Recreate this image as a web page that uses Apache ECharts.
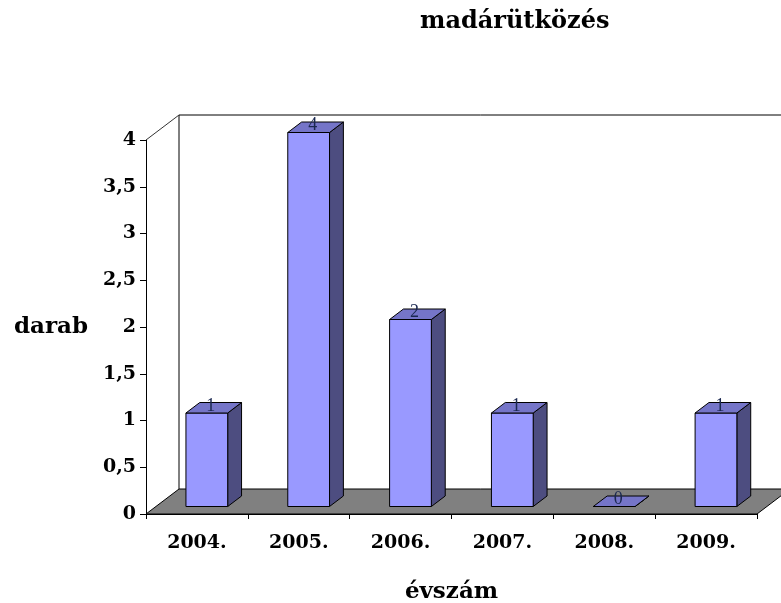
<!DOCTYPE html>
<html>
<head>
<meta charset="utf-8">
<script src="https://cdn.jsdelivr.net/npm/echarts@6/dist/echarts.min.js"></script>
<style>html,body{margin:0;padding:0;background:#fff}#c{width:781px;height:603px}</style>
</head>
<body>
<div id="c"></div>
<script>
const categories = ['2004.', '2005.', '2006.', '2007.', '2008.', '2009.'];
const values = [1, 4, 2, 1, 0, 1];
const yMin = 0, yMax = 4, yStep = 0.5;
const titleText = 'madárütközés';
const xName = 'évszám';
const yName = 'darab';

const FONT = '"DejaVu Serif", serif';
const DX = 33, DY = -25;        // depth offset of the 3D box
const D1 = 0.3, D2 = 0.72;      // bar front/back depth fractions
const BAR = 0.41;               // bar width fraction of band

const chart = echarts.init(document.getElementById('c'), null, {renderer: 'canvas'});

function renderBox(params, api) {
  const cs = params.coordSys;
  const x0 = cs.x, x1 = cs.x + cs.width, yT = cs.y, yB = cs.y + cs.height;
  const st = {stroke: '#000', lineWidth: 1};
  return {
    type: 'group',
    children: [
      {type: 'polygon', shape: {points: [[x0, yB], [x1, yB], [x1 + DX, yB + DY], [x0 + DX, yB + DY]]},
       style: {fill: '#808080', stroke: '#000', lineWidth: 1}},
      {type: 'line', shape: {x1: x0 + DX, y1: yB + DY, x2: x0 + DX, y2: yT + DY}, style: st},
      {type: 'line', shape: {x1: x0 + DX, y1: yT + DY, x2: x1 + DX, y2: yT + DY}, style: st},
      {type: 'line', shape: {x1: x0, y1: yT, x2: x0 + DX, y2: yT + DY}, style: {stroke: '#333', lineWidth: 1}}
    ]
  };
}

function renderBar(params, api) {
  const i = api.value(0), v = api.value(1);
  const base = api.coord([i, 0]);
  const top = api.coord([i, v]);
  const bw = api.size([1, 0])[0];
  const hw = bw * BAR / 2;
  const fx = D1 * DX, fy = D1 * DY;
  const sx = (D2 - D1) * DX, sy = (D2 - D1) * DY;
  const xl = base[0] - hw + fx, xr = base[0] + hw + fx;
  const yb = base[1] + fy, yt = top[1] + fy;
  const st = {stroke: '#000', lineWidth: 1};
  return {
    type: 'group',
    children: [
      {type: 'polygon', shape: {points: [[xr, yt], [xr + sx, yt + sy], [xr + sx, yb + sy], [xr, yb]]},
       style: Object.assign({fill: '#4D4D80'}, st)},
      {type: 'rect', shape: {x: xl, y: yt, width: xr - xl, height: Math.max(0, yb - yt)},
       style: Object.assign({fill: '#9999FF'}, st)},
      {type: 'polygon', shape: {points: [[xl, yt], [xr, yt], [xr + sx, yt + sy], [xl + sx, yt + sy]]},
       style: Object.assign({fill: '#7575C8'}, st)},
      {type: 'text', x: (xl + xr) / 2 + 4, y: yt + 2,
       style: {text: String(v), fill: '#1a2850', font: '18px "Liberation Serif", serif',
               textAlign: 'center', textVerticalAlign: 'bottom'}}
    ]
  };
}

chart.setOption({
  backgroundColor: '#fff',
  animation: false,
  title: {
    text: titleText, left: 420, top: 10, padding: 0,
    textStyle: {fontFamily: FONT, fontWeight: 'bold', fontSize: 24, color: '#000'}
  },
  grid: {left: 146, right: 24, top: 140, bottom: 89, containLabel: false, outerBoundsMode: 'none'},
  xAxis: {
    type: 'category', data: categories,
    name: xName, nameLocation: 'middle', nameGap: 67,
    nameTextStyle: {fontFamily: FONT, fontWeight: 'bold', fontSize: 23, color: '#000'},
    axisLine: {lineStyle: {color: '#000', width: 1}},
    axisTick: {show: true, length: 5, lineStyle: {color: '#000'}},
    axisLabel: {margin: 20, fontFamily: FONT, fontWeight: 'bold', fontSize: 19, color: '#000'},
    splitLine: {show: false}
  },
  yAxis: {
    type: 'value', min: yMin, max: yMax, interval: yStep,
    name: yName, nameLocation: 'middle', nameGap: 58, nameRotate: 0,
    nameTextStyle: {fontFamily: FONT, fontWeight: 'bold', fontSize: 23, color: '#000'},
    axisLine: {show: true, lineStyle: {color: '#000', width: 1}},
    axisTick: {show: true, length: 6, lineStyle: {color: '#000'}},
    axisLabel: {margin: 10, fontFamily: FONT, fontWeight: 'bold', fontSize: 19, color: '#000',
      formatter: v => String(v).replace('.', ',')},
    splitLine: {show: false}
  },
  series: [
    {type: 'custom', renderItem: renderBox, data: [[0, 0]], z: 1, silent: true, clip: false},
    {type: 'custom', renderItem: renderBar, data: values.map((v, i) => [i, v]), z: 2, clip: false}
  ]
});
</script>
</body>
</html>
